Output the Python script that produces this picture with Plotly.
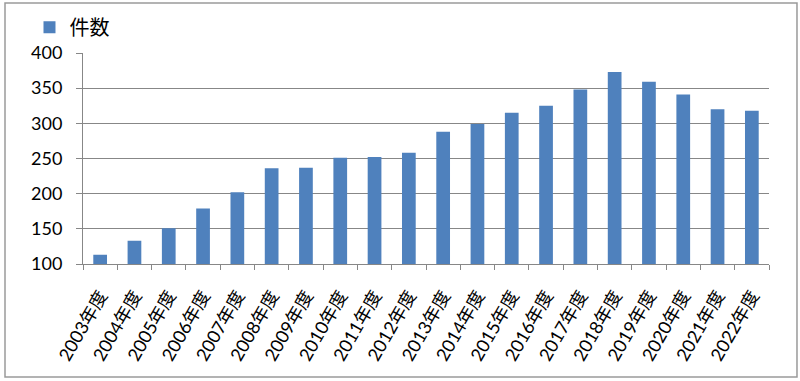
import plotly.graph_objects as go

years = ["2003年度", "2004年度", "2005年度", "2006年度", "2007年度", "2008年度", "2009年度",
         "2010年度", "2011年度", "2012年度", "2013年度", "2014年度", "2015年度", "2016年度",
         "2017年度", "2018年度", "2019年度", "2020年度", "2021年度", "2022年度"]
counts = [113, 133, 151, 179, 202, 236, 237, 251, 252, 258, 288, 299, 315, 325, 348,
          373, 359, 341, 320, 318]
series_name = "件数"
y_ticks = [100, 150, 200, 250, 300, 350, 400]

FONT = "Lato, 'Noto Sans CJK JP', sans-serif"
GRID = "#878787"

fig = go.Figure()
fig.add_trace(go.Bar(x=years, y=counts, name=series_name,
                     marker=dict(color="#4F81BD", line=dict(width=0))))

fig.update_layout(
    width=800, height=381,
    margin=dict(l=83, r=31, t=53, b=117, autoexpand=False),
    paper_bgcolor="white", plot_bgcolor="white",
    font=dict(family=FONT, size=16, color="black"),
    bargap=0.6,
    showlegend=True,
    legend=dict(x=-0.078, y=1.215, xanchor="left", yanchor="top",
                font=dict(size=20, family=FONT), bgcolor="rgba(0,0,0,0)",
                itemwidth=30),
    shapes=[dict(type="rect", xref="paper", yref="paper",
                 x0=-0.1137, x1=1.0408, y0=-0.5355, y1=1.237,
                 line=dict(color="#9a9a9a", width=1.5), layer="below")],
)
fig.update_yaxes(range=[100, 400], tickvals=y_ticks, showgrid=True, gridcolor=GRID,
                 gridwidth=1, showline=True, linecolor=GRID, linewidth=1,
                 ticks="outside", ticklen=6, tickcolor=GRID, ticklabelstandoff=10,
                 tickfont=dict(size=18), zeroline=False, automargin=False)
fig.update_xaxes(showline=True, linecolor=GRID, linewidth=1, ticks="outside",
                 tickson="boundaries", ticklen=5, tickcolor=GRID, tickangle=-60,
                 ticklabelstandoff=13, tickfont=dict(size=18), automargin=False)

fig.write_html("out.html", config={"displayModeBar": False},
               post_script="document.body.style.margin='0';document.body.style.overflow='hidden';")
